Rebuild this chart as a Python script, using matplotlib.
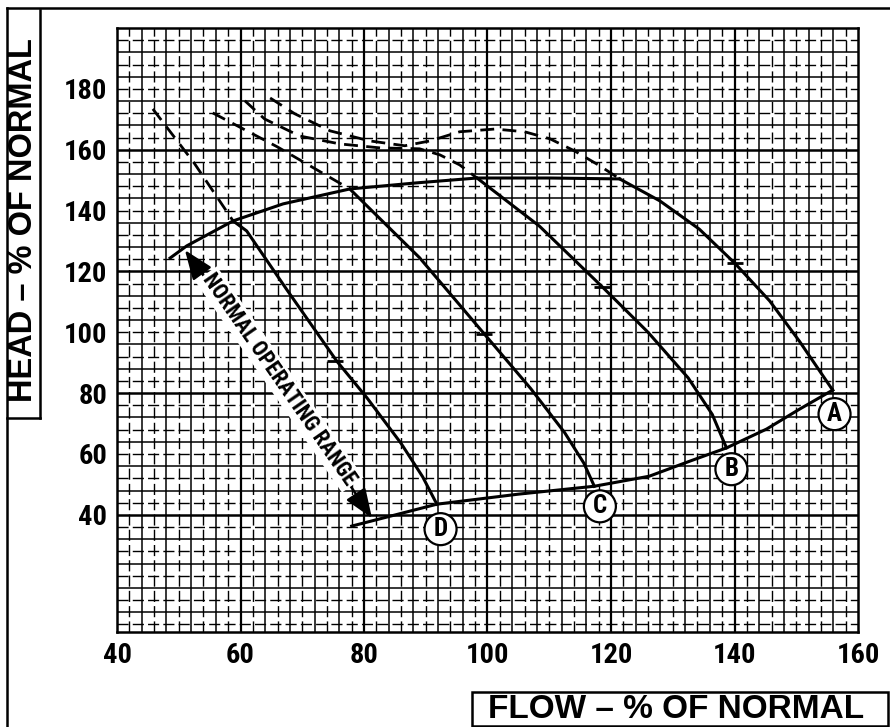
import numpy as np
import matplotlib
matplotlib.use("Agg")
import matplotlib.pyplot as plt
from matplotlib import font_manager as fm
from matplotlib.lines import Line2D
from matplotlib.patches import Rectangle

# =========================
# DATA
# =========================
# upper envelope (max head) and lower envelope
top_x = [48.6, 51.3, 58.8, 66.9, 77.7, 88.5, 98.3, 110.1, 121.4]
top_y = [124.4, 128.4, 136.6, 142.2, 147.1, 149.1, 150.7, 150.7, 150.4]

bottom_x = [78.0, 91.8, 105.0, 117.3, 126.2, 132.7, 138.7, 145.2, 150.5, 155.9]
bottom_y = [36.3, 43.5, 46.8, 49.4, 52.7, 57.6, 62.0, 68.2, 74.7, 81.0]

# speed curves A-D (solid)
a_x = [121.4, 127.9, 134.3, 140.0, 145.7, 150.5, 155.9]
a_y = [150.4, 143.2, 133.9, 122.8, 110.3, 97.1, 81.0]
b_x = [98.3, 108.4, 118.6, 126.0, 132.5, 136.4, 138.7]
b_y = [150.7, 134.9, 114.9, 100.0, 85.0, 73.0, 62.0]
c_x = [77.7, 89.0, 99.5, 107.0, 112.5, 115.6, 117.3]
c_y = [147.1, 124.5, 99.4, 81.5, 67.0, 57.0, 49.4]
d_x = [58.8, 61.0, 67.5, 75.6, 80.5, 86.0, 89.5, 91.8]
d_y = [136.6, 133.3, 114.0, 90.5, 78.4, 63.5, 52.5, 43.5]

# dashed extensions above the envelope
da_x = [64.8, 68.8, 74.5, 80.9, 86.6, 90.7, 95.5, 101.2, 106.0, 110.1, 114.1, 118.2, 121.4]
da_y = [177.0, 171.8, 166.2, 162.9, 161.3, 162.9, 165.9, 166.8, 165.9, 163.6, 159.6, 154.7, 150.4]
db_x = [60.7, 63.9, 69.6, 76.1, 82.6, 89.0, 92.3, 95.5, 98.3]
db_y = [176.1, 170.1, 164.5, 161.9, 160.6, 160.3, 158.3, 155.0, 150.7]
dc_x = [55.5, 66.0, 77.7]
dc_y = [172.1, 160.9, 147.1]
dd_x = [45.8, 52.5, 58.8]
dd_y = [173.4, 155.6, 136.6]

# small cross marks on each speed curve
mark_x = [75.3, 99.5, 118.6, 140.0]
mark_y = [90.5, 99.4, 114.9, 122.8]

# circled curve labels
labels = ["A", "B", "C", "D"]
label_x = [156.2, 139.5, 118.2, 92.4]
label_y = [73.1, 55.0, 42.8, 35.3]

# operating range arrow ends and label centre
range_top = (51.0, 127.0)
range_bot = (81.3, 38.9)
range_text = (66.3, 84.5)

x_ticks = [40, 60, 80, 100, 120, 140, 160]
y_ticks = [40, 60, 80, 100, 120, 140, 160, 180]

# =========================
# FONTS
# =========================
installed = {f.name for f in fm.fontManager.ttflist}


def pick(cands):
    for c in cands:
        if c in installed:
            return c
    return "DejaVu Sans"


narrow = pick(["Roboto Condensed", "Liberation Sans Narrow", "DejaVu Sans Condensed",
               "Open Sans Condensed", "Liberation Sans"])
heavy = pick(["Liberation Sans", "DejaVu Sans"])

# =========================
# FIGURE
# =========================
W, H = 890, 727
fig = plt.figure(figsize=(W / 100, H / 100), dpi=100)
ax = fig.add_axes([117 / W, 1 - 632 / H, (858 - 117) / W, (632 - 28) / H])
ax.set_xlim(40, 160)
ax.set_ylim(1.5, 200)

# graph-paper grid
for gx in np.arange(42, 160, 2):
    if gx % 4 == 0:
        lw = 1.6 if gx % 20 == 0 else 1.1
        ax.axvline(gx, color="black", lw=lw, zorder=1)
    else:
        ax.axvline(gx, color="black", lw=1.0, ls=(0, (8, 3)), zorder=1)
for gy in np.arange(4, 200, 4):
    if gy % 8 == 0:
        lw = 1.8 if gy % 40 == 0 else 1.1
        ax.axhline(gy, color="black", lw=lw, zorder=1)
    else:
        ax.axhline(gy, color="black", lw=1.0, ls=(0, (8, 3)), zorder=1)

# curves
lw_c = 2.2
ax.plot(top_x, top_y, color="black", lw=lw_c, zorder=3)
ax.plot(bottom_x, bottom_y, color="black", lw=lw_c, zorder=3)
for xs, ys in [(a_x, a_y), (b_x, b_y), (c_x, c_y), (d_x, d_y)]:
    ax.plot(xs, ys, color="black", lw=lw_c, zorder=3)
for xs, ys in [(da_x, da_y), (db_x, db_y), (dc_x, dc_y), (dd_x, dd_y)]:
    ax.plot(xs, ys, color="black", lw=2.0, ls=(0, (5, 3)), zorder=3)

ax.plot(mark_x, mark_y, ls="none", marker="_", ms=11, mew=2, color="black", zorder=4)

for lab, lx, ly in zip(labels, label_x, label_y):
    ax.text(lx, ly, lab, family=narrow, fontweight="bold", fontsize=18,
            ha="center", va="center", zorder=6,
            bbox=dict(boxstyle="circle,pad=0.16", fc="white", ec="black", lw=1.6))

# normal operating range
arrow_kw = dict(arrowstyle="-|>,head_length=0.9,head_width=0.35",
                color="black", lw=1.8, shrinkA=0, shrinkB=0, mutation_scale=20)
ax.annotate("", xy=range_top, xytext=range_text, zorder=2.5, arrowprops=arrow_kw)
ax.annotate("", xy=range_bot, xytext=range_text, zorder=2.5, arrowprops=arrow_kw)
ax.text(range_text[0], range_text[1], "NORMAL OPERATING RANGE", family=narrow,
        fontweight="bold", fontsize=15.5, rotation=-55.2, rotation_mode="anchor",
        ha="center", va="center", zorder=2.6, bbox=dict(fc="white", ec="none", pad=1.5))

# axes styling
ax.set_xticks(x_ticks)
ax.set_yticks(y_ticks)
ax.tick_params(length=0, pad=7)
ax.set_xticklabels([str(v) for v in x_ticks], family=narrow, fontweight="bold", fontsize=20.5)
ax.set_yticklabels([str(v) for v in y_ticks], family=narrow, fontweight="bold", fontsize=20.5)
for s in ax.spines.values():
    s.set_linewidth(1.8)
    s.set_zorder(7)

# =========================
# FRAME AND BOXED AXIS TITLES
# =========================
def fx(px):
    return px / W


def fy(py):
    return 1 - py / H


frame_kw = dict(color="black", lw=1.8, transform=fig.transFigure)
fig.add_artist(Line2D([fx(7), fx(7)], [fy(8), fy(727)], **frame_kw))
fig.add_artist(Line2D([fx(7), fx(890)], [fy(8), fy(8)], **frame_kw))
fig.add_artist(Line2D([fx(40), fx(40)], [fy(10), fy(418)], **frame_kw))
fig.add_artist(Line2D([fx(7), fx(40)], [fy(418), fy(418)], **frame_kw))
fig.add_artist(Rectangle((fx(472), fy(726)), fx(888) - fx(472), fy(692) - fy(726),
                         fill=False, ec="black", lw=1.8, transform=fig.transFigure))

fig.text(fx(24), fy(220), "HEAD – % OF NORMAL", rotation=90, ha="center", va="center",
         fontsize=23.5, fontweight="bold", family=heavy)
fig.text(fx(676), fy(710), "FLOW – % OF NORMAL", ha="center", va="center",
         fontsize=24, fontweight="bold", family=heavy)

fig.savefig("out.png", dpi=100)
